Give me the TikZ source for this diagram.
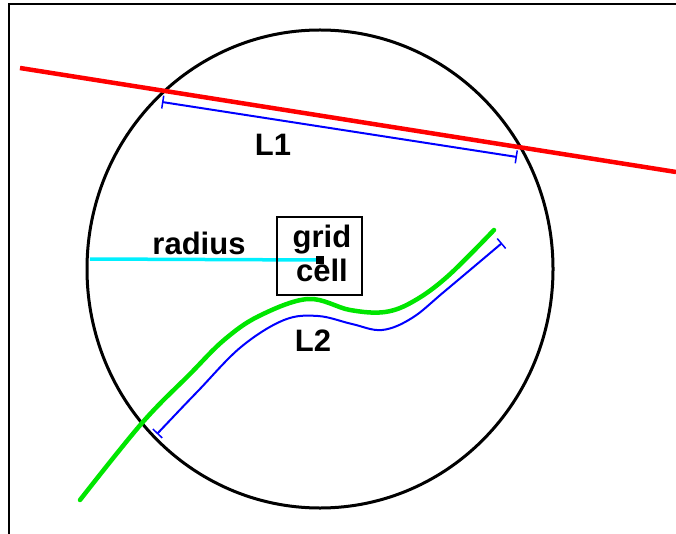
\documentclass[tikz,border=0pt]{standalone}
\usepackage{fontspec}
\setmainfont{Liberation Sans}
\usetikzlibrary{arrows.meta}
\definecolor{myred}{RGB}{255,0,0}
\definecolor{mygreen}{RGB}{0,230,0}
\definecolor{myblue}{RGB}{0,0,255}
\definecolor{mycyan}{RGB}{0,240,255}
\begin{document}
\begin{tikzpicture}[x=1pt,y=-1pt,
  lbl/.style={font=\fontsize{31}{33}\selectfont\bfseries, inner sep=0pt},
  measure/.style={myblue, line width=2pt, {Bar[width=13pt,line width=1.5pt]}-{Bar[width=13pt,line width=1.5pt]}}]
\useasboundingbox (0,0) rectangle (676,534);
% frame
\draw[line width=2pt] (9,534) -- (9,4) -- (676,4);
% circle
\draw[line width=3pt] (320,269) ellipse [x radius=233, y radius=239];
% red line
\coordinate (r1) at (20,68);
\coordinate (r2) at (676,172);
\draw[myred, line width=4.5pt] (r1) -- (r2);
% L1 measure
\coordinate (a1) at (162,102);
\coordinate (a2) at (517,157);
\draw[measure] (a1) -- (a2);
\node[lbl] (L1) at (273,145) {L1};
% radius
\coordinate (c0) at (90,259);
\coordinate (c1) at (320,260);
\draw[mycyan, line width=3.5pt] (c0) -- (c1);
\node[lbl] (radius) at (199,243) {radius};
% grid cell box
\node[draw, line width=1.5pt, minimum width=85pt, minimum height=78pt, inner sep=0pt] (box) at (319.5,256) {};
\node[lbl] (grid) at (322,240) {grid};
\node[lbl] (cell) at (322,270) {cell};
\node[fill=black, minimum size=8pt, inner sep=0pt] (dot) at (c1) {};
% green curve
\draw[mygreen, line width=4.5pt, line cap=round] plot[smooth, tension=0.6] coordinates
 {(80,500) (142,423) (190,374) (224,340) (259,316) (308,299) (350,310) (385,312) (414,301) (448,276) (494,230)};
% blue L2
\draw[measure] plot[smooth, tension=0.6] coordinates
 {(157,434) (198,391) (241,347) (284,320) (318,316) (352,324) (382,330) (412,318) (445,291) (502,243)};
\node[lbl] (L2) at (313,341) {L2};
\end{tikzpicture}
\end{document}
